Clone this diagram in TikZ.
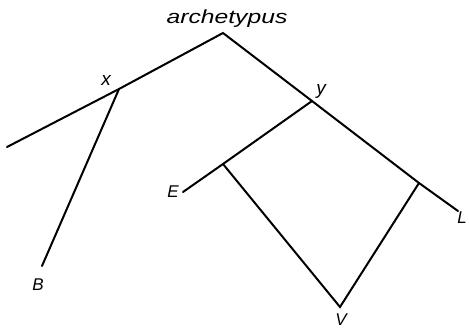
\documentclass[tikz,border=0pt]{standalone}
\usepackage{fontspec}
\setmainfont{Liberation Sans}
\begin{document}
\begin{tikzpicture}[x=1pt,y=-1pt,
  edge/.style={line width=2pt,line cap=round,line join=miter},
  lbl/.style={inner sep=0pt,font=\fontsize{17}{17}\selectfont\itshape},
  lowlbl/.style={inner sep=0pt,font=\fontsize{19}{19}\selectfont\itshape}]
\useasboundingbox (0,0) rectangle (469,329);
\coordinate (apex) at (223,33);
\coordinate (X) at (119,89);
\coordinate (left) at (7,147);
\coordinate (Bend) at (42,266);
\coordinate (Y) at (312,101);
\coordinate (Ebr) at (223,164);
\coordinate (Eend) at (183,192);
\coordinate (Lbr) at (419,183);
\coordinate (Lend) at (458,211);
\coordinate (V) at (340,307);
\draw[edge] (left) -- (X) -- (apex) -- (Y) -- (Lbr) -- (Lend);
\draw[edge] (X) -- (Bend);
\draw[edge] (Y) -- (Ebr) -- (Eend);
\draw[edge] (Ebr) -- (V) -- (Lbr);
\node[lowlbl] (arch) at (227,19) {\scalebox{1.3}[1]{archetypus}};
\node[lowlbl] (xl) at (106,80) {x};
\node[lowlbl] (yl) at (321,91) {y};
\node[lbl] (El) at (173,192) {E};
\node[lbl] (Ll) at (462,218) {L};
\node[lbl] (Vl) at (341,320) {V};
\node[lbl] (Bl) at (38,285) {B};
\end{tikzpicture}
\end{document}
